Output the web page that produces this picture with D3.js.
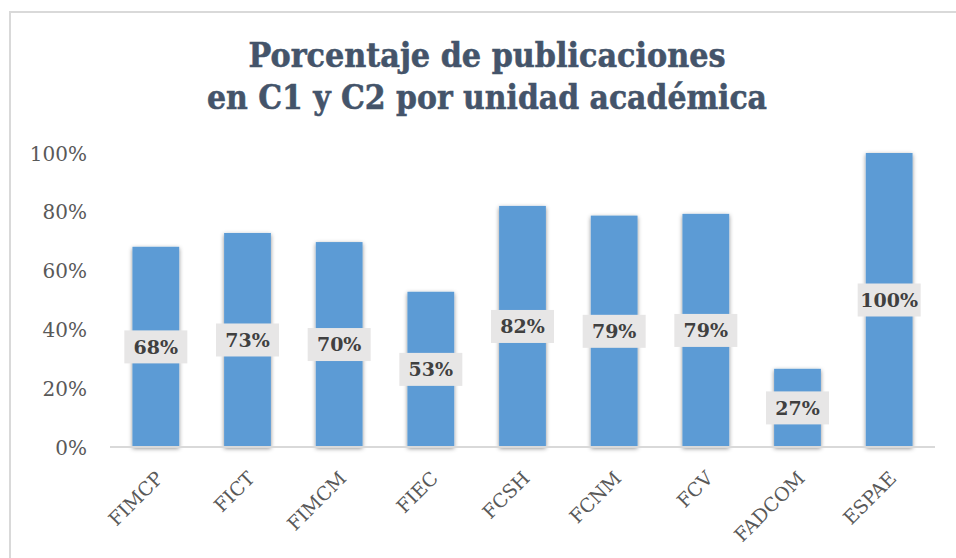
<!DOCTYPE html>
<html>
<head>
<meta charset="utf-8">
<script src="https://cdn.jsdelivr.net/npm/d3@7"></script>
<style>
  html, body { margin: 0; padding: 0; background: #ffffff; }
  svg { display: block; }
</style>
</head>
<body>
<svg id="chart" width="956" height="558"></svg>
<script>
const categories = ["FIMCP", "FICT", "FIMCM", "FIEC", "FCSH", "FCNM", "FCV", "FADCOM", "ESPAE"];
const values = [0.681, 0.728, 0.697, 0.528, 0.82, 0.787, 0.793, 0.266, 1.0];
const valueLabels = ["68%", "73%", "70%", "53%", "82%", "79%", "79%", "27%", "100%"];
const yTicks = [0, 0.2, 0.4, 0.6, 0.8, 1.0];
const titleLines = ["Porcentaje de publicaciones", "en C1 y C2 por unidad académica"];

const W = 956, H = 558;
const svg = d3.select("#chart");

const defs = svg.append("defs");
const f = defs.append("filter").attr("id", "shadow")
  .attr("x", "-30%").attr("y", "-10%").attr("width", "160%").attr("height", "120%");
f.append("feDropShadow").attr("dx", 0).attr("dy", 1.5).attr("stdDeviation", 2.2)
  .attr("flood-color", "#000").attr("flood-opacity", 0.45);

// chart border
svg.append("rect").attr("x", 10).attr("y", 12).attr("width", 960).attr("height", 560)
  .attr("fill", "none").attr("stroke", "#d9d9d9").attr("stroke-width", 2);

// title
const titleTargets = [477, 560];
const title = svg.append("g");
titleLines.forEach((t, i) => {
  const tx = title.append("text")
    .attr("x", 487).attr("y", 67 + i * 42)
    .attr("text-anchor", "middle")
    .attr("font-family", "'DejaVu Serif', serif")
    .attr("font-weight", "bold")
    .attr("font-size", 34)
    .attr("fill", "#44546a")
    .attr("stroke", "#44546a")
    .attr("stroke-width", 0.6)
    .text(t);
  const len = tx.node().getComputedTextLength();
  if (len > titleTargets[i]) {
    tx.attr("textLength", titleTargets[i]).attr("lengthAdjust", "spacingAndGlyphs");
  }
});

const x = d3.scaleBand().domain(categories).range([110, 935]).paddingInner(0.49).paddingOuter(0.245);
const y = d3.scaleLinear().domain([0, 1]).range([447, 153]);

// y axis labels
const yAxis = d3.axisLeft(y).tickValues(yTicks).tickFormat(d3.format(".0%")).tickSize(0).tickPadding(0);
const yg = svg.append("g").attr("transform", "translate(87,0)").call(yAxis);
yg.select(".domain").remove();
yg.selectAll("text")
  .attr("font-family", "'DejaVu Serif', serif")
  .attr("font-size", 20)
  .attr("fill", "#595959")
  .attr("dy", "0.35em");

// bars
svg.append("g").selectAll("rect").data(values).join("rect")
  .attr("x", (d, i) => x(categories[i]))
  .attr("y", d => y(d))
  .attr("width", x.bandwidth())
  .attr("height", d => y(0) - y(d))
  .attr("fill", "#5b9bd5")
  .attr("filter", "url(#shadow)");

// x axis line
const xAxis = d3.axisBottom(x).tickSize(0).tickPadding(0);
const xg = svg.append("g").attr("transform", "translate(0,447)").call(xAxis);
xg.select(".domain").attr("stroke", "#d9d9d9").attr("stroke-width", 2)
  .attr("d", "M110,0H935");
xg.selectAll("text")
  .attr("font-family", "'DejaVu Serif', serif")
  .attr("font-size", 19)
  .attr("fill", "#595959")
  .attr("text-anchor", "end")
  .attr("x", 0)
  .attr("y", 0)
  .attr("dy", "0.7em")
  .attr("transform", "translate(-1,23) rotate(-45)");

// data labels
const lg = svg.append("g");
values.forEach((v, i) => {
  const cx = x(categories[i]) + x.bandwidth() / 2;
  const cy = (y(v) + y(0)) / 2;
  lg.append("rect")
    .attr("x", cx - 31.5).attr("y", cy - 16.5)
    .attr("width", 63).attr("height", 33)
    .attr("fill", "#e7e6e6");
  lg.append("text")
    .attr("x", cx).attr("y", cy)
    .attr("dy", "0.36em")
    .attr("text-anchor", "middle")
    .attr("font-family", "'DejaVu Serif', serif")
    .attr("font-weight", "bold")
    .attr("font-size", 19)
    .attr("fill", "#404040")
    .text(valueLabels[i]);
});
</script>
</body>
</html>
